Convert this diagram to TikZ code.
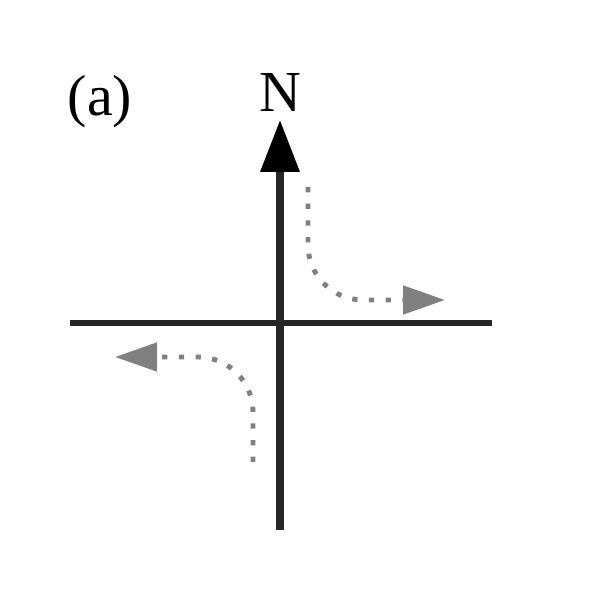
\documentclass[tikz,border=0pt]{standalone}
\usepackage{fontspec}
\setmainfont{Liberation Serif}
\usepackage{tikz}
\usetikzlibrary{arrows.meta, positioning}

\begin{document}
\begin{tikzpicture}[
  axis/.style={draw=black!85, line width=#1},
  axis/.default={3.4pt},
  north/.style={-{Triangle[length=1.04cm, width=0.76cm, fill=black, color=black]}},
  route/.style={
    draw=black!50, line width=2.8pt, dash pattern=on 3pt off 6.5pt,
    rounded corners=1.1cm,
    -{Triangle[length=0.84cm, width=0.56cm, fill=black!50]}
  },
  lbl/.style={inner sep=0pt, font=\fontsize{33}{36}\selectfont}
]
\useasboundingbox (0,0) rectangle (12,12);

% === Axes ===
\coordinate (south) at (5.6,1.4);
\coordinate (top)   at (5.6,9.6);
\coordinate (west)  at (1.4,5.54);
\coordinate (east)  at (9.84,5.54);

\draw[axis] (west) -- (east);
\draw[axis=4pt, north] (south) -- (top);

% === Labels ===
\node[lbl] (n)   at (5.6,10.14) {N};
\node[lbl] (tag) at (2.0,9.96) {(a)};

% === Turning paths ===
\coordinate (ne from) at (6.16,8.26);
\coordinate (ne to)   at (8.9,6.0);
\coordinate (sw from) at (5.06,2.76);
\coordinate (sw to)   at (2.3,4.86);

\draw[route] (ne from) |- (ne to);
\draw[route] (sw from) |- (sw to);

\end{tikzpicture}
\end{document}
